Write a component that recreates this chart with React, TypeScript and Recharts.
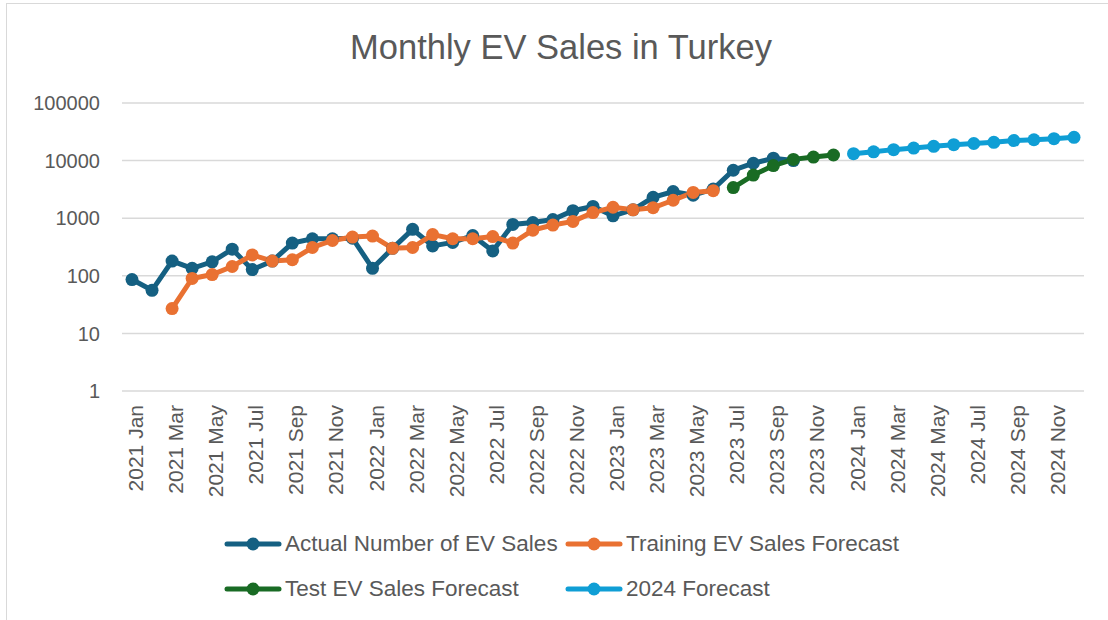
import React from 'react';
import { LineChart, Line, XAxis, YAxis, CartesianGrid } from 'recharts';

const months = [
  '2021 Jan', '2021 Feb', '2021 Mar', '2021 Apr', '2021 May', '2021 Jun', '2021 Jul', '2021 Aug', '2021 Sep', '2021 Oct', '2021 Nov', '2021 Dec',
  '2022 Jan', '2022 Feb', '2022 Mar', '2022 Apr', '2022 May', '2022 Jun', '2022 Jul', '2022 Aug', '2022 Sep', '2022 Oct', '2022 Nov', '2022 Dec',
  '2023 Jan', '2023 Feb', '2023 Mar', '2023 Apr', '2023 May', '2023 Jun', '2023 Jul', '2023 Aug', '2023 Sep', '2023 Oct', '2023 Nov', '2023 Dec',
  '2024 Jan', '2024 Feb', '2024 Mar', '2024 Apr', '2024 May', '2024 Jun', '2024 Jul', '2024 Aug', '2024 Sep', '2024 Oct', '2024 Nov', '2024 Dec',
];

// Jan 2021 .. Oct 2023
const actualSales = [
  86, 56, 180, 135, 175, 290, 128, 180, 370, 440, 440, 450,
  135, 300, 640, 330, 380, 500, 270, 780, 840, 950, 1350, 1600,
  1100, 1400, 2300, 2900, 2500, 3200, 6800, 9000, 11000, 10000,
];

// Mar 2021 .. Jun 2023
const trainingForecast = [
  27, 90, 105, 145, 230, 180, 190, 310, 410, 470,
  490, 300, 310, 520, 440, 440, 480, 370, 620, 760, 880, 1250,
  1550, 1400, 1520, 2050, 2800, 3000,
];

// Jul 2023 .. Dec 2023
const testForecast = [3400, 5600, 8200, 10500, 11500, 12500];

// Jan 2024 .. Dec 2024
const forecast2024 = [13200, 14200, 15500, 16500, 17700, 18900, 19800, 20800, 22300, 23000, 24000, 25400];

const yTicks = [1, 10, 100, 1000, 10000, 100000];

const series = [
  { key: 'actual', name: 'Actual Number of EV Sales', color: '#156082', values: actualSales, start: 0 },
  { key: 'training', name: 'Training EV Sales Forecast', color: '#E97132', values: trainingForecast, start: 2 },
  { key: 'test', name: 'Test EV Sales Forecast', color: '#196B24', values: testForecast, start: 30 },
  { key: 'f2024', name: '2024 Forecast', color: '#0F9ED5', values: forecast2024, start: 36 },
];

const data = months.map((month, i) => {
  const row: Record<string, any> = { month };
  series.forEach((s) => {
    const v = s.values[i - s.start];
    row[s.key] = v === undefined ? null : v;
  });
  return row;
});

const textColor = '#595959';
const axisFont = '"Liberation Sans", Arial, sans-serif';

const XTick = (props: any) => {
  const { x, y, payload } = props;
  return (
    <text
      transform={`translate(${x},${y}) rotate(-90)`}
      textAnchor="end"
      dy={11}
      fontSize={21}
      fontFamily={axisFont}
      fill={textColor}
    >
      {payload.value}
    </text>
  );
};

const LegendItem = ({ name, color }: { name: string; color: string }) => (
  <div style={{ display: 'flex', alignItems: 'center' }}>
    <svg width={58} height={16} style={{ marginRight: 3 }}>
      <line x1={3} y1={8} x2={55} y2={8} stroke={color} strokeWidth={5} strokeLinecap="round" />
      <circle cx={29} cy={8} r={6.5} fill={color} />
    </svg>
    <span>{name}</span>
  </div>
);

export default function App() {
  return (
    <div style={{ position: 'absolute', left: 0, top: 0, width: 1108, height: 620, overflow: 'hidden', background: '#fff' }}>
      <div style={{ position: 'absolute', left: 6, top: 3, width: 1200, height: 700, border: '1px solid #d9d9d9' }} />
      <div
        style={{
          position: 'absolute', left: 0, top: 27, width: 1122, textAlign: 'center',
          fontFamily: axisFont, fontSize: 34.5, color: textColor, lineHeight: '40px',
        }}
      >
        Monthly EV Sales in Turkey
      </div>
      <div style={{ position: 'absolute', left: 0, top: 0 }}>
        <LineChart width={1108} height={620} data={data} margin={{ top: 103, right: 24, left: 0, bottom: 0 }}>
          <CartesianGrid vertical={false} stroke="#d9d9d9" strokeWidth={1.5} />
          <XAxis
            dataKey="month"
            interval={1}
            padding={{ left: 10, right: 10 }}
            tick={<XTick />}
            tickLine={false}
            axisLine={false}
            tickSize={0}
            tickMargin={14}
            height={229}
          />
          <YAxis
            scale="log"
            domain={[1, 100000]}
            ticks={yTicks}
            allowDataOverflow
            width={122}
            tickLine={false}
            axisLine={false}
            tickSize={0}
            tickMargin={22}
            tick={{ fontSize: 20, fontFamily: axisFont, fill: textColor }}
          />
          {series.map((s) => (
            <Line
              key={s.key}
              dataKey={s.key}
              name={s.name}
              stroke={s.color}
              strokeWidth={5}
              dot={{ r: 6.5, fill: s.color, stroke: s.color, strokeWidth: 0 }}
              activeDot={false}
              connectNulls={false}
              isAnimationActive={false}
            />
          ))}
        </LineChart>
      </div>
      <div
        style={{
          position: 'absolute', left: 224, top: 530, display: 'grid', gridTemplateColumns: '341px 340px',
          rowGap: 17, fontFamily: axisFont, fontSize: 22.5, color: textColor, lineHeight: '28px',
        }}
      >
        {series.map((s) => (
          <LegendItem key={s.key} name={s.name} color={s.color} />
        ))}
      </div>
    </div>
  );
}
